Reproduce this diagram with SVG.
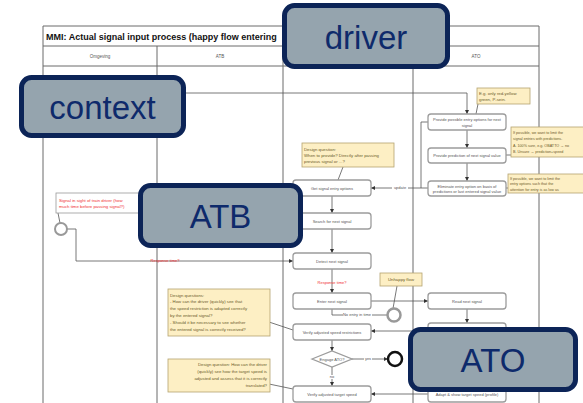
<svg xmlns="http://www.w3.org/2000/svg" width="583" height="403" viewBox="0 0 583 403">
<style>
.lane{stroke:#6b6b6b;stroke-width:1;fill:none}
.box{fill:#fff;stroke:#9c9c9c;stroke-width:1.3}
.f{font-family:"Liberation Sans",Arial,sans-serif}
.t{font-family:"Liberation Sans",Arial,sans-serif;font-size:4px;fill:#555;text-anchor:middle}
.note{fill:#fdefc4;stroke:#b5a470;stroke-width:0.8}
.nt{font-family:"Liberation Sans",Arial,sans-serif;font-size:4.3px;fill:#6b5a2a}
.sm{font-size:3.7px}
.conn{stroke:#555;stroke-width:0.8;fill:none}
.lbl{font-family:"Liberation Sans",Arial,sans-serif;font-size:4px;fill:#555;text-anchor:middle}
text.red{fill:#f03030}
.call rect{fill:#95a4ae;stroke:#0c2457;stroke-width:5}
.ct{font-family:"Liberation Sans",Arial,sans-serif;font-size:33px;fill:#0e2a6b;text-anchor:middle}
</style>
<defs>
<marker id="ah" viewBox="0 0 6 6" markerWidth="4" markerHeight="4" refX="6" refY="3" orient="auto" markerUnits="userSpaceOnUse">
<path d="M0,0 L6,3 L0,6 z" fill="#333"/>
</marker>
</defs>
<rect width="583" height="403" fill="#fff"/>
<g id="frame">
<path class="lane" d="M43,26 H539 M43,46 H539 M43,66 H539 M43,26 V403 M157,46 V403 M283,46 V403 M413,46 V403 M539,26 V403"/>
<text class="f" x="46" y="39.5" font-size="9" font-weight="bold" fill="#111">MMI: Actual signal input process (happy flow entering</text>
<text class="f" x="100" y="58" font-size="4.5" fill="#555" text-anchor="middle">Omgeving</text>
<text class="f" x="220" y="58" font-size="4.5" fill="#555" text-anchor="middle">ATB</text>
<text class="f" x="476" y="58" font-size="4.5" fill="#555" text-anchor="middle">ATO</text>
</g>
<g id="connectors">
<path class="conn" d="M150,93 H467 V114" marker-end="url(#ah)"/>
<path class="conn" d="M467,130 V148" marker-end="url(#ah)"/>
<path class="conn" d="M467,163 V181" marker-end="url(#ah)"/>
<path class="conn" d="M428,122 H421 V188"/>
<path class="conn" d="M428,188 H371" marker-end="url(#ah)"/>
<rect x="392" y="186" width="16" height="4" fill="#fff"/>
<text class="lbl" x="400" y="189.4">update</text>
<path class="conn" d="M332,196 V213" marker-end="url(#ah)"/>
<path class="conn" d="M332,229 V253" marker-end="url(#ah)"/>
<path class="conn" d="M67,229 H76 V261 H293" marker-end="url(#ah)"/>
<text class="lbl red" x="165" y="262.4">Response time?</text>
<path class="conn" d="M58,213 L60,223"/>
<path class="conn" d="M343,167 L338,180"/>
<path class="conn" d="M332,269 V293" marker-end="url(#ah)"/>
<text class="lbl red" x="332" y="283.5">Response time?</text>
<path class="conn" d="M371,301 H428" marker-end="url(#ah)"/>
<path class="conn" d="M332,309 V315 H387.5"/>
<rect x="343" y="313" width="29" height="4" fill="#fff"/>
<text class="lbl" x="357" y="316.4">No entry in time</text>
<path class="conn" d="M397,286 L393,308.5"/>
<path class="conn" d="M467,309 V323" marker-end="url(#ah)"/>
<path class="conn" d="M428,331 H371" marker-end="url(#ah)"/>
<path class="conn" d="M269,322 L293,330"/>
<path class="conn" d="M332,340 V351" marker-end="url(#ah)"/>
<path class="conn" d="M352,359 H388" marker-end="url(#ah)"/>
<rect x="364" y="357" width="8" height="4" fill="#fff"/>
<text class="lbl" x="368" y="360.4">yes</text>
<path class="conn" d="M332,367 V386" marker-end="url(#ah)"/>
<rect x="328" y="375" width="8" height="4" fill="#fff"/>
<text class="lbl" x="332" y="378.4">no</text>
<path class="conn" d="M428,394 H371" marker-end="url(#ah)"/>
<path class="conn" d="M269,384 L293,389"/>
<path class="conn" d="M478,104 L476,114"/>
<path class="conn" d="M506,155 H511"/>
<path class="conn" d="M506,188 H508"/>
</g>
<g id="n_get"><rect class="box" x="293" y="180" width="78" height="16" rx="3"/><text class="t" x="332" y="189.5">Get signal entry options</text></g>
<g id="n_search"><rect class="box" x="293" y="213" width="78" height="16" rx="3"/><text class="t" x="332" y="222.5">Search for next signal</text></g>
<g id="n_detect"><rect class="box" x="293" y="253" width="78" height="16" rx="3"/><text class="t" x="332" y="262.5">Detect next signal</text></g>
<g id="n_enter"><rect class="box" x="293" y="293" width="78" height="16" rx="3"/><text class="t" x="332" y="302.5">Enter next signal</text></g>
<g id="n_vsr"><rect class="box" x="293" y="324" width="78" height="16" rx="3"/><text class="t" x="332" y="333.5">Verify adjusted speed restrictions</text></g>
<g id="n_engage"><polygon points="312,359 332,351 352,359 332,367" fill="#fff" stroke="#9c9c9c" stroke-width="1.3"/><text class="t" x="332" y="360.5">Engage ATO?</text></g>
<g id="n_vts"><rect class="box" x="293" y="386" width="78" height="16" rx="3"/><text class="t" x="332" y="395.5">Verify adjusted target speed</text></g>
<g id="n_prov"><rect class="box" x="428" y="114" width="78" height="16" rx="3"/><text class="t" x="467" y="121">Provide possible entry options for next</text><text class="t" x="467" y="126.5">signal</text></g>
<g id="n_pred"><rect class="box" x="428" y="148" width="78" height="15" rx="3"/><text class="t" x="467" y="156.8">Provide prediction of next signal value</text></g>
<g id="n_elim"><rect class="box" x="428" y="181" width="78" height="15" rx="3"/><text class="t" x="467" y="187.5">Eliminate entry option on basis of</text><text class="t" x="467" y="192.7">predictions or last entered signal value</text></g>
<g id="n_read"><rect class="box" x="428" y="293" width="78" height="16" rx="3"/><text class="t" x="467" y="302.5">Read next signal</text></g>
<g id="n_adjust"><rect class="box" x="428" y="323" width="78" height="16" rx="3"/></g>
<g id="n_adapt"><rect class="box" x="428" y="386" width="78" height="16" rx="3"/><text class="t" x="467" y="395.5">Adapt &amp; show target speed (profile)</text></g>
<g id="n_start"><circle cx="61" cy="229" r="6" fill="#fff" stroke="#999" stroke-width="2"/></g>
<g id="n_noentry"><circle cx="394" cy="315" r="6.5" fill="#fff" stroke="#999" stroke-width="2.5"/></g>
<g id="n_end"><circle cx="395" cy="359" r="7" fill="#fff" stroke="#111" stroke-width="2.5"/></g>
<g id="note_red"><rect x="56" y="193" width="95" height="20" fill="#fff" stroke="#999" stroke-width="0.8"/><text class="nt red" x="59" y="201.5">Signal in sight of train driver (how</text><text class="nt red" x="59" y="208">much time before passing signal?)</text></g>
<g id="note_when"><rect class="note" x="302" y="143" width="92" height="24"/><text class="nt" x="304" y="150.5">Design question:</text><text class="nt" x="304" y="156.5">When to provide? Directly after passing</text><text class="nt" x="304" y="162.5">previous signal or ...?</text></g>
<g id="note_eg"><rect class="note" x="477" y="88" width="53" height="16"/><text class="nt" x="479" y="94.5">E.g. only red-yellow</text><text class="nt" x="479" y="100.5">green, P-sein.</text></g>
<g id="note_limit1"><rect class="note" x="511" y="127" width="80" height="30"/><text class="nt sm" x="513" y="134">If possible, we want to limit the</text><text class="nt sm" x="513" y="140">signal entries with predictions.</text><text class="nt sm" x="513" y="146.5">A. 100% sure, e.g. OBATTO → no</text><text class="nt sm" x="513" y="153">B. Unsure → prediction+speed</text></g>
<g id="note_limit2"><rect class="note" x="508" y="174" width="83" height="19"/><text class="nt sm" x="510" y="179.5">If possible, we want to limit the</text><text class="nt sm" x="510" y="185">entry options such that the</text><text class="nt sm" x="510" y="190.5">attention for entry is as low as</text></g>
<g id="note_unhappy"><rect class="note" x="380" y="273" width="42" height="13"/><text class="nt" x="401" y="281" text-anchor="middle">Unhappy flow</text></g>
<g id="note_a"><rect class="note" x="168" y="289" width="102" height="47"/><text class="nt" x="170" y="296.5">Design questions:</text><text class="nt" x="170" y="303.4">- How can the driver (quickly) see that</text><text class="nt" x="170" y="310.3">the speed restriction is adapted correctly</text><text class="nt" x="170" y="317.2">by the entered signal?</text><text class="nt" x="170" y="324.1">- Should it be necessary to see whether</text><text class="nt" x="170" y="331">the entered signal is correctly received?</text></g>
<g id="note_b"><rect class="note" x="168" y="359" width="102" height="33"/><g text-anchor="end"><text class="nt" x="267" y="366">Design question: How can the driver</text><text class="nt" x="267" y="373">(quickly) see how the target speed is</text><text class="nt" x="267" y="380">adjusted and assess that it is correctly</text><text class="nt" x="267" y="387">translated?</text></g></g>
<g id="callout_driver" class="call"><rect x="284.5" y="5.5" width="163" height="61" rx="10"/><text class="ct" x="366" y="49">driver</text></g>
<g id="callout_context" class="call"><rect x="21.5" y="77.5" width="162" height="58" rx="10"/><text class="ct" x="102.5" y="119">context</text></g>
<g id="callout_atb" class="call"><rect x="140.5" y="185.5" width="160" height="60" rx="10"/><text class="ct" x="220.5" y="228">ATB</text></g>
<g id="callout_ato" class="call"><rect x="410.5" y="329.5" width="165" height="60" rx="10"/><text class="ct" x="493" y="372">ATO</text></g>
</svg>
